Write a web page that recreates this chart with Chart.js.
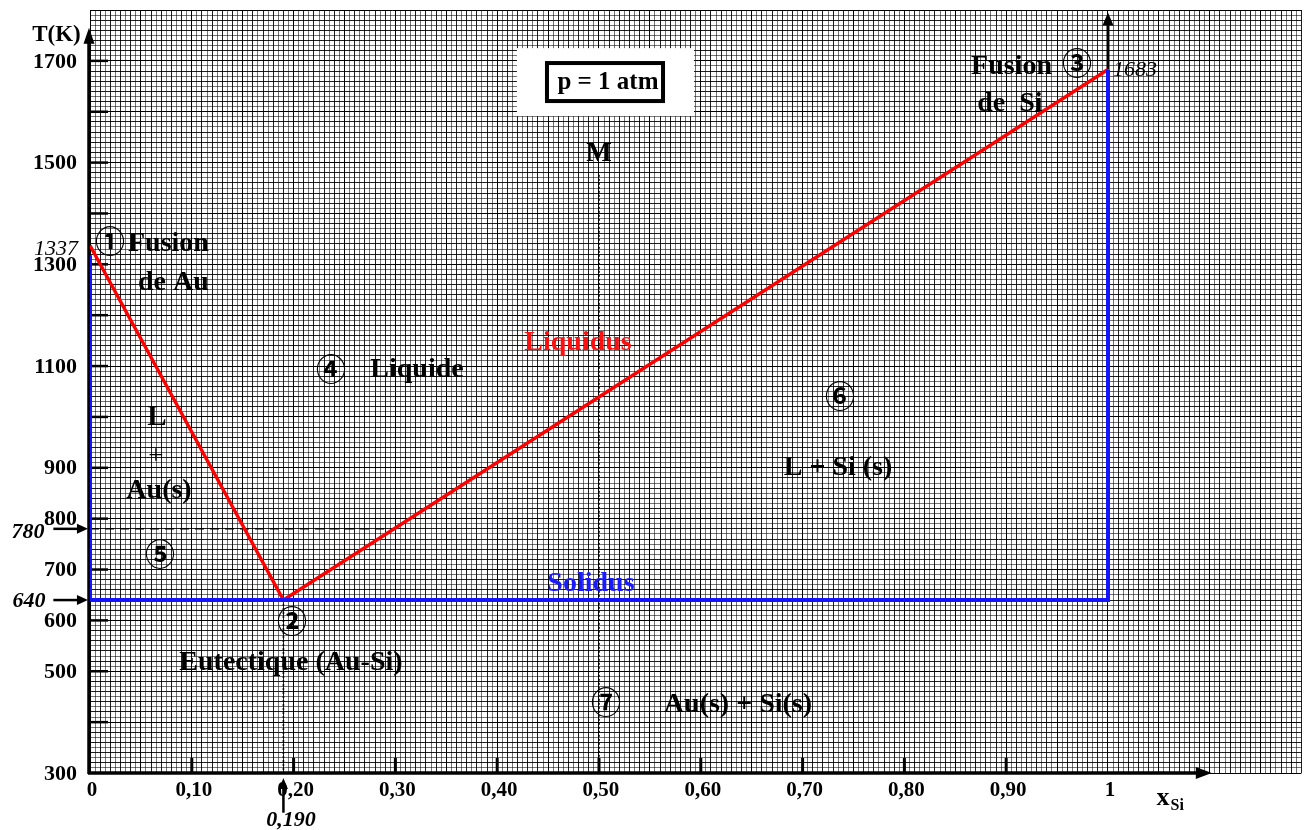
<!DOCTYPE html>
<html><head><meta charset="utf-8">
<script src="https://cdn.jsdelivr.net/npm/chart.js@4/dist/chart.umd.min.js"></script>
<style>html,body{margin:0;padding:0;background:#fff}canvas{display:block}</style>
</head><body>
<canvas id="c" width="1306" height="830"></canvas>
<script>
// ---------- data ----------
const liquidusX = [0, 0.190, 1];
const liquidusT = [1337, 640, 1683];
const solidusX = [0, 0, 1, 1];
const solidusT = [1318, 640, 640, 1683];
const level780X = [0, 0.30];
const level780T = [780, 780];
const eutecticDropX = [0.190, 0.190];
const eutecticDropT = [640, 300];
const pointMX = [0.50, 0.50];
const pointMT = [1476, 300];
const xTickLabels = ['0', '0,10', '0,20', '0,30', '0,40', '0,50', '0,60', '0,70', '0,80', '0,90', '1'];
const yTickMarks = [400, 500, 600, 700, 800, 900, 1000, 1100, 1200, 1300, 1400, 1500, 1600, 1700];
const yTickLabels = ['300', '500', '600', '700', '800', '900', '1100', '1300', '1500', '1700'];

const SERIF = "'Liberation Serif','Times New Roman',serif";
const CIRC = "'Noto Sans CJK JP','DejaVu Sans',sans-serif";

const xy = (xs, ys) => xs.map((x, i) => ({x: x, y: ys[i]}));

// text annotations in data units
const labels = [
  {t: 'T(K)', x: -0.033, y: 1751, f: 'bold 23px ' + SERIF},
  {t: '\u2460', x: 0.0196, y: 1346, f: 'bold 30px ' + CIRC},
  {t: 'Fusion', x: 0.0373, y: 1340, f: 'bold 28px ' + SERIF, a: 'left'},
  {t: 'de Au', x: 0.0472, y: 1263, f: 'bold 28px ' + SERIF, a: 'left'},
  {t: 'L', x: 0.0658, y: 998, f: 'bold 29px ' + SERIF},
  {t: '+', x: 0.0648, y: 921, f: '27px ' + SERIF},
  {t: 'Au(s)', x: 0.0678, y: 854, f: 'bold 28px ' + SERIF},
  {t: '\u2464', x: 0.0688, y: 732, f: 'bold 30px ' + CIRC},
  {t: '\u2461', x: 0.1984, y: 599, f: 'bold 30px ' + CIRC},
  {t: 'Eutectique (Au-Si)', x: 0.1974, y: 516, f: 'bold 28px ' + SERIF},
  {t: '\u2463', x: 0.2367, y: 1096, f: 'bold 30px ' + CIRC},
  {t: 'Liquide', x: 0.3212, y: 1092, f: 'bold 28px ' + SERIF},
  {t: 'Liquidus', x: 0.4794, y: 1145, f: 'bold 28px ' + SERIF, c: '#ff1010'},
  {t: 'M', x: 0.50, y: 1517, f: 'bold 27px ' + SERIF},
  {t: 'Solidus', x: 0.4921, y: 673, f: 'bold 28px ' + SERIF, c: '#1a1aff'},
  {t: '\u2465', x: 0.7367, y: 1041, f: 'bold 30px ' + CIRC},
  {t: 'L + Si (s)', x: 0.7348, y: 900, f: 'bold 28px ' + SERIF},
  {t: '\u2466', x: 0.5069, y: 440, f: 'bold 30px ' + CIRC},
  {t: 'Au(s) + Si(s)', x: 0.6365, y: 434, f: 'bold 28px ' + SERIF},
  {t: 'Fusion', x: 0.9450, y: 1688, f: 'bold 28px ' + SERIF, a: 'right'},
  {t: '\u2462', x: 0.9696, y: 1696, f: 'bold 30px ' + CIRC},
  {t: 'de  Si', x: 0.9037, y: 1615, f: 'bold 28px ' + SERIF},
  {t: '1683', x: 1.0049, y: 1682, f: 'italic 22px ' + SERIF, a: 'left'},
  {t: '1337', x: -0.0118, y: 1330, f: 'italic 22px ' + SERIF, a: 'right'},
  {t: '780', x: -0.0609, y: 774, f: 'bold italic 22px ' + SERIF},
  {t: '640', x: -0.0600, y: 637, f: 'bold italic 22px ' + SERIF},
  {t: '0,190', x: 0.1974, y: 207, f: 'bold italic 22px ' + SERIF},
  {t: 'x', x: 1.054, y: 251, f: 'bold 26px ' + SERIF},
  {t: 'Si', x: 1.0614, y: 235, f: 'bold 16px ' + SERIF, a: 'left'}
];

function arrow(c, x1, y1, x2, y2, lw, hl, hw) {
  const a = Math.atan2(y2 - y1, x2 - x1), co = Math.cos(a), si = Math.sin(a);
  c.save();
  c.strokeStyle = c.fillStyle = '#000';
  c.lineWidth = lw;
  c.beginPath(); c.moveTo(x1, y1); c.lineTo(x2 - hl * co * 0.8, y2 - hl * si * 0.8); c.stroke();
  c.beginPath(); c.moveTo(x2, y2);
  c.lineTo(x2 - hl * co + hw / 2 * si, y2 - hl * si - hw / 2 * co);
  c.lineTo(x2 - hl * co - hw / 2 * si, y2 - hl * si + hw / 2 * co);
  c.closePath(); c.fill();
  c.restore();
}

const paper = {
  id: 'paper',
  beforeDatasetsDraw(chart) {
    const c = chart.ctx, X = v => chart.scales.x.getPixelForValue(v), Y = v => chart.scales.y.getPixelForValue(v);
    c.save();
    // white box behind the pressure label
    c.fillStyle = '#fff';
    c.fillRect(X(0.4194), Y(1725), X(0.5933) - X(0.4194), Y(1591.5) - Y(1725));
    c.lineWidth = 4; c.strokeStyle = '#000';
    c.strokeRect(X(0.4489), Y(1695.7), X(0.5629) - X(0.4489), Y(1621) - Y(1695.7));
    // axes with arrowheads
    arrow(c, X(0) - 1, Y(300) + 1, X(0) - 1, Y(1765), 3.5, 16, 11);
    arrow(c, X(0) - 2, Y(300), X(1.102), Y(300), 3.5, 16, 12);
    // vertical arrow at x = 1
    arrow(c, X(1), Y(1683), X(1), Y(1795), 3, 13, 11);
    // inward tick marks
    c.strokeStyle = '#000'; c.lineWidth = 2.5;
    yTickMarks.forEach(v => { c.beginPath(); c.moveTo(X(0) - 1, Y(v)); c.lineTo(X(0) + 18, Y(v)); c.stroke(); });
    c.lineWidth = 3;
    xTickLabels.slice(1, -1).forEach(l => { const v = Number(l.replace(',', '.')); c.beginPath(); c.moveTo(X(v), Y(300)); c.lineTo(X(v), Y(300) - 15); c.stroke(); });
    // side arrows
    arrow(c, X(-0.036), Y(780), X(-0.002), Y(780), 2.5, 11, 10);
    arrow(c, X(-0.036), Y(640), X(-0.002), Y(640), 2.5, 11, 10);
    arrow(c, X(0.190), Y(222), X(0.190), Y(290), 2.5, 11, 9);
    c.restore();
  },
  afterDraw(chart) {
    const c = chart.ctx, X = v => chart.scales.x.getPixelForValue(v), Y = v => chart.scales.y.getPixelForValue(v);
    c.save();
    c.textBaseline = 'middle';
    c.fillStyle = '#000';
    c.font = 'bold 22px ' + SERIF; c.textAlign = 'right';
    yTickLabels.forEach(l => c.fillText(l, X(-0.0128), Y(Number(l)) + 1));
    c.font = 'bold 21px ' + SERIF; c.textAlign = 'center';
    xTickLabels.forEach(l => c.fillText(l, X(Number(l.replace(',', '.'))) + 2, Y(266)));
    c.font = 'bold 25px ' + SERIF;
    c.fillText('p = 1 atm', X(0.5088), Y(1658));
    labels.forEach(o => {
      c.font = o.f; c.fillStyle = o.c || '#000'; c.textAlign = o.a || 'center';
      c.fillText(o.t, X(o.x), Y(o.y));
    });
    c.restore();
  }
};

function gridColor(ctx) {
  const i = ctx.index;
  if (i % 10 === 0) return 'rgba(0,0,0,1)';
  if (i % 2 === 0) return 'rgba(0,0,0,0.88)';
  return 'rgba(0,0,0,0.55)';
}

new Chart(document.getElementById('c'), {
  type: 'scatter',
  data: {
    datasets: [
      {data: xy(solidusX, solidusT), borderColor: '#1414ff', borderWidth: 4},
      {data: xy(liquidusX, liquidusT), borderColor: '#ff0000', borderWidth: 3.4},
      {data: xy(level780X, level780T), borderColor: '#000', borderWidth: 1.5, borderDash: [9, 6]},
      {data: xy(eutecticDropX, eutecticDropT), borderColor: '#000', borderWidth: 1.6, borderDash: [2, 2]},
      {data: xy(pointMX, pointMT), borderColor: '#000', borderWidth: 1.6, borderDash: [2, 2]}
    ].map(d => Object.assign({showLine: true, pointRadius: 0, tension: 0, fill: false}, d))
  },
  options: {
    responsive: false, animation: false, events: [],
    layout: {padding: {left: 90, right: 4.6, top: 10, bottom: 57}},
    plugins: {legend: {display: false}, tooltip: {enabled: false}},
    scales: {
      x: {
        type: 'linear', min: 0, max: 1.19,
        ticks: {display: false}, border: {display: false},
        grid: {drawTicks: false, color: gridColor, lineWidth: 1},
        afterBuildTicks: axis => { const t = []; for (let i = 0; i <= 238; i++) t.push({value: +(i * 0.005).toFixed(4)}); axis.ticks = t; }
      },
      y: {
        type: 'linear', min: 300, max: 1800,
        ticks: {display: false}, border: {display: false},
        grid: {drawTicks: false, color: gridColor, lineWidth: 1},
        afterBuildTicks: axis => { const t = []; for (let i = 0; i <= 150; i++) t.push({value: 300 + i * 10}); axis.ticks = t; }
      }
    }
  },
  plugins: [paper]
});
</script>
</body></html>
